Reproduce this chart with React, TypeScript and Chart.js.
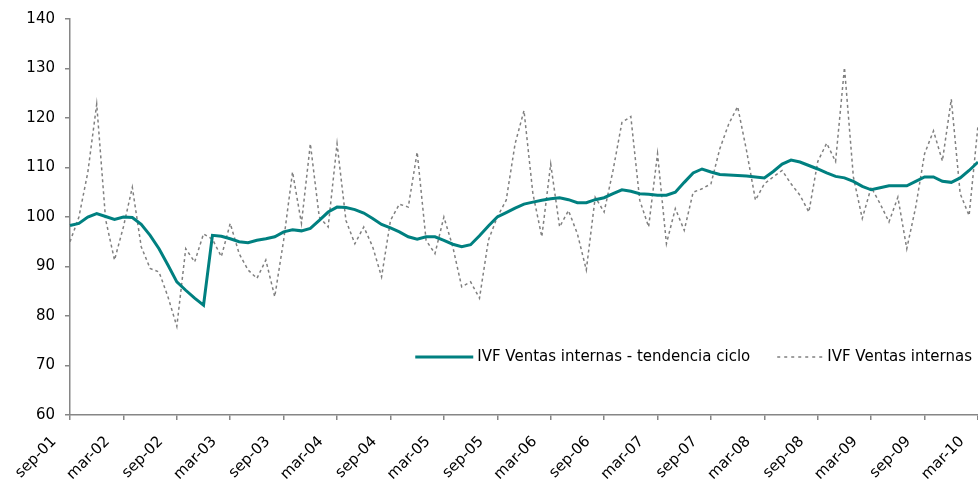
import React, { useEffect, useRef } from "react";
import { Chart, registerables } from "chart.js";

Chart.register(...registerables);

// ---- data ----
const MONTHS = ["ene", "feb", "mar", "abr", "may", "jun", "jul", "ago", "sep", "oct", "nov", "dic"];
const START_MONTH = 8; // sep
const START_YEAR = 2001;
const N_POINTS = 103; // sep-01 .. mar-10

const categories: string[] = Array.from({ length: N_POINTS }, (_, i) => {
  const m = (START_MONTH + i) % 12;
  const y = START_YEAR + Math.floor((START_MONTH + i) / 12);
  return `${MONTHS[m]}-${String(y % 100).padStart(2, "0")}`;
});

const seriesTrendLabel = "IVF Ventas internas - tendencia ciclo";
const seriesRawLabel = "IVF Ventas internas";

const trendValues = [
  98.3, 98.7, 100, 100.7, 100.1, 99.5, 100, 99.9, 98.5, 96.3, 93.6, 90.3,
  86.9, 85.2, 83.6, 82.2, 96.3, 96.1, 95.6, 95, 94.8, 95.3, 95.6, 96,
  97, 97.4, 97.2, 97.7, 99.3, 101, 102, 101.9, 101.5, 100.8, 99.7, 98.5,
  97.8, 97, 96, 95.5, 96, 96, 95.3, 94.5, 94, 94.4, 96.2, 98.2,
  100, 100.9, 101.8, 102.6, 103, 103.4, 103.7, 103.9, 103.5, 102.9, 102.9, 103.5,
  103.9, 104.7, 105.5, 105.2, 104.7, 104.6, 104.4, 104.4, 105, 107, 108.9, 109.7,
  109.1, 108.6, 108.5, 108.4, 108.3, 108.1, 107.9, 109.2, 110.7, 111.5, 111.1, 110.4,
  109.7, 108.9, 108.2, 107.9, 107.2, 106.2, 105.5, 105.9, 106.3, 106.3, 106.3, 107.2,
  108.1, 108.1, 107.2, 107, 107.9, 109.4, 111.1,
];

const rawValues = [
  95, 100, 109, 122.8, 99.5, 91.3, 98, 106, 94, 89.6, 88.9, 83.9,
  77.9, 93.6, 90.9, 96.6, 95.5, 92, 98.7, 92.6, 89.3, 87.6, 91.3, 83.9,
  95.3, 109.1, 98.7, 114.8, 100, 98, 114.8, 99.3, 94.6, 98, 94, 87.9,
  99.3, 102.6, 102, 113.1, 95.3, 92.6, 100, 94, 85.9, 86.9, 83.6, 95.3,
  100, 103.4, 114.8, 121.5, 104.7, 96, 110.7, 98, 101.3, 96.6, 89.3, 104,
  101, 109.4, 119.1, 120.3, 103.4, 98, 112.8, 94.6, 101.7, 97.3, 105, 105.7,
  106.7, 113.8, 118.8, 122.3, 113.4, 103.4, 106.7, 108.1, 109.4, 106.7, 104.4, 101,
  111.2, 114.9, 111.2, 130.2, 108.1, 99.7, 106, 102.7, 99, 104, 93.6, 102,
  112.8, 117.4, 111.3, 123.8, 104.7, 100.3, 118.5,
];

const Y_MIN = 60;
const Y_MAX = 140;
const Y_STEP = 10;
const LABEL_EVERY = 6;

// ---- styles ----
const FONT = '"DejaVu Sans"';
const FONT_SIZE = 15;
const TEAL = "#008080";
const GRAY = "#808080";
const AXIS = "#868686";

const insideLegend = {
  id: "insideLegend",
  afterDraw(chart: any) {
    const { ctx, chartArea } = chart;
    const ds = chart.data.datasets;
    ctx.save();
    ctx.font = `${FONT_SIZE}px ${FONT}`;
    ctx.textBaseline = "middle";
    ctx.textAlign = "left";
    ctx.fillStyle = "#000";
    const y = chartArea.bottom - 58;
    const right = chartArea.right - 6;
    const w2 = ctx.measureText(ds[1].label).width;
    const t2 = right - w2;
    const s2end = t2 - 4;
    const s2start = s2end - 46;
    const w1 = ctx.measureText(ds[0].label).width;
    const t1 = s2start - 27 - w1;
    const s1end = t1 - 4;
    const s1start = s1end - 58;
    ctx.strokeStyle = ds[0].borderColor;
    ctx.lineWidth = 3;
    ctx.setLineDash([]);
    ctx.beginPath();
    ctx.moveTo(s1start, y);
    ctx.lineTo(s1end, y);
    ctx.stroke();
    ctx.fillText(ds[0].label, t1, y);
    ctx.strokeStyle = ds[1].borderColor;
    ctx.lineWidth = 1.5;
    ctx.setLineDash([3, 4]);
    ctx.beginPath();
    ctx.moveTo(s2start, y);
    ctx.lineTo(s2end, y);
    ctx.stroke();
    ctx.setLineDash([]);
    ctx.fillText(ds[1].label, t2, y);
    ctx.restore();
  },
};

export default function App() {
  const canvasRef = useRef<HTMLCanvasElement | null>(null);

  useEffect(() => {
    document.body.style.margin = "0";
    const canvas = canvasRef.current;
    if (!canvas) return;
    let chart: Chart | null = null;
    let cancelled = false;
    const build = () => {
      if (cancelled) return;
      chart = new Chart(canvas, {
        type: "line",
        data: {
          labels: categories,
          datasets: [
            {
              label: seriesTrendLabel,
              data: trendValues,
              borderColor: TEAL,
              backgroundColor: TEAL,
              borderWidth: 3,
              pointRadius: 0,
              tension: 0,
              order: 0,
            },
            {
              label: seriesRawLabel,
              data: rawValues,
              borderColor: GRAY,
              backgroundColor: GRAY,
              borderWidth: 1.5,
              borderDash: [3, 3],
              pointRadius: 0,
              tension: 0,
              order: 1,
            },
          ],
        },
        options: {
          responsive: false,
          animation: false,
          devicePixelRatio: 1,
          layout: { padding: { left: 0, top: 18, right: 0, bottom: 0 } },
          plugins: {
            legend: { display: false },
            tooltip: { enabled: false },
          },
          scales: {
            x: {
              type: "category",
              offset: false,
              grid: {
                drawOnChartArea: false,
                drawTicks: true,
                tickLength: 5,
                color: AXIS,
                lineWidth: 1.5,
              },
              border: { display: true, color: AXIS, width: 1.5 },
              ticks: {
                autoSkip: false,
                minRotation: 45,
                maxRotation: 45,
                padding: 13,
                labelOffset: -16,
                color: "#000",
                font: { family: FONT, size: FONT_SIZE },
                callback: (_v: any, i: number) => (i % LABEL_EVERY === 0 ? categories[i] : null),
              },
              afterFit: (s: any) => {
                s.height = 71;
                s.paddingLeft = 0;
                s.paddingRight = 0;
              },
            },
            y: {
              min: Y_MIN,
              max: Y_MAX,
              grid: {
                drawOnChartArea: false,
                drawTicks: true,
                tickLength: 5,
                color: AXIS,
                lineWidth: 1.5,
              },
              border: { display: true, color: AXIS, width: 1.5 },
              ticks: {
                stepSize: Y_STEP,
                padding: 10,
                color: "#000",
                font: { family: FONT, size: FONT_SIZE },
              },
              afterFit: (s: any) => {
                s.width = 70;
              },
            },
          },
        },
        plugins: [insideLegend],
      });
    };
    const fontsApi: any = (document as any).fonts;
    if (fontsApi && fontsApi.load) {
      fontsApi.load(`${FONT_SIZE}px ${FONT}`).then(build, build);
    } else {
      build();
    }
    return () => {
      cancelled = true;
      if (chart) chart.destroy();
    };
  }, []);

  return (
    <div style={{ width: 978, height: 486, position: "relative" }}>
      <canvas ref={canvasRef} width={978} height={486} style={{ display: "block" }} />
    </div>
  );
}
